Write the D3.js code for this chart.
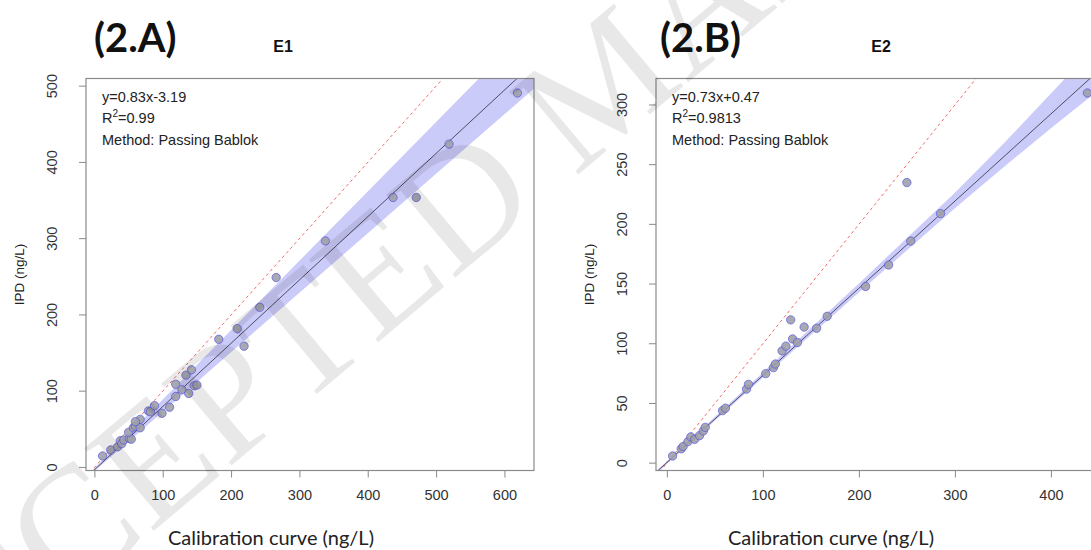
<!DOCTYPE html>
<html>
<head>
<meta charset="utf-8">
<script src="https://cdn.jsdelivr.net/npm/d3@7"></script>
<style>
  body { margin: 0; background: #fff; }
  svg { display: block; }
</style>
</head>
<body>
<svg id="chart" width="1091" height="550"></svg>
<script>
// E1 : calibration curve vs IPD (ng/L)
const e1Calib = [12, 24, 34, 38, 40, 43, 51, 54, 50, 57, 60, 67, 67, 60, 79, 82, 88, 99, 110, 119,
                 119, 128, 134, 142, 138, 146, 150, 182, 209, 219, 242, 266, 338, 437, 471, 519, 619]
const e1Ipd   = [15, 23, 27, 35, 31, 36, 38, 37, 46, 52, 54, 52, 63, 60, 74, 73, 81, 71, 79, 93,
                 109, 102, 121, 128, 97, 107, 108, 168, 182, 159, 210, 249, 297, 354, 354, 424, 491]
const e1Fit = {slope: 0.83, intercept: -3.19}
const e1BandX  = [-20, 0, 100, 200, 300, 400, 500, 600, 660]
const e1BandLo = [-21, -5, 73, 151, 229, 307, 385, 463, 510]
const e1BandHi = [-20, -1, 89, 180, 271, 362, 453, 544, 598]
const e1XTicks = [0, 100, 200, 300, 400, 500, 600]
const e1YTicks = [0, 100, 200, 300, 400, 500]
const e1Text = ['y=0.83x-3.19', '0.99', 'Method: Passing Bablok']

// E2
const e2Calib = [6, 15, 17, 22, 25, 29, 34, 38, 40, 58, 61, 83, 85, 103, 111, 113, 120, 124, 131, 136,
                 129, 143, 156, 167, 207, 231, 254, 285, 250, 438]
const e2Ipd   = [6, 12, 14, 18, 22, 20, 23, 27, 30, 44, 46, 62, 66, 75, 80, 83, 94, 98, 104, 101,
                 120, 114, 113, 123, 148, 166, 186, 209, 235, 310]
const e2Fit = {slope: 0.73, intercept: 0.47}
const e2BandX  = [-15, 0, 100, 200, 300, 350, 400, 460]
const e2BandLo = [-11.5, -0.5, 71.5, 143, 213.5, 247.5, 280.5, 319]
const e2BandHi = [-9.5, 1.5, 76, 150.5, 226.5, 267, 309.5, 361]
const e2XTicks = [0, 100, 200, 300, 400]
const e2YTicks = [0, 50, 100, 150, 200, 250, 300]
const e2Text = ['y=0.73x+0.47', '0.9813', 'Method: Passing Bablok']

const svg = d3.select('#chart')

// R style 4% padding of the data range
function padRange(vals) {
    const [lo, hi] = d3.extent(vals)
    const p = (hi - lo) * 0.04
    return [lo - p, hi + p]
}

function drawPanel(cfg) {
    const box = {left: cfg.left, right: cfg.left + 448, top: 78.5, bottom: 470.5}
    const x = d3.scaleLinear().domain(padRange(cfg.calib)).range([box.left, box.right])
    const y = d3.scaleLinear().domain(padRange(cfg.ipd)).range([box.bottom, box.top])

    const g = svg.append('g')
    g.append('clipPath').attr('id', 'clip-' + cfg.id)
        .append('rect')
        .attr('x', box.left).attr('y', box.top)
        .attr('width', box.right - box.left).attr('height', box.bottom - box.top)
    const plot = g.append('g').attr('clip-path', `url(#clip-${cfg.id})`)

    // confidence band
    const band = d3.area()
        .x((d, i) => x(cfg.bandX[i]))
        .y0((d, i) => y(cfg.bandLo[i]))
        .y1((d, i) => y(cfg.bandHi[i]))
    plot.append('path')
        .datum(cfg.bandX)
        .attr('fill', '#cbcbfa')
        .attr('d', band)

    const dom = x.domain()
    const line = d3.line().x(d => x(d[0])).y(d => y(d[1]))

    // identity line
    plot.append('path')
        .datum(dom.map(v => [v, v]))
        .attr('fill', 'none')
        .attr('stroke', '#f26a6a')
        .attr('stroke-width', 1)
        .attr('stroke-dasharray', '3,3')
        .attr('d', line)

    // regression line
    plot.append('path')
        .datum(dom.map(v => [v, cfg.fit.slope * v + cfg.fit.intercept]))
        .attr('fill', 'none')
        .attr('stroke', '#4d4d66')
        .attr('stroke-width', 1)
        .attr('d', line)

    plot.selectAll('circle.pt')
        .data(cfg.calib.map((c, i) => [c, cfg.ipd[i]]))
        .join('circle')
        .attr('class', 'pt')
        .attr('cx', d => x(d[0]))
        .attr('cy', d => y(d[1]))
        .attr('r', 4.2)
        .attr('fill', '#a0a0a8')
        .attr('fill-opacity', 0.9)
        .attr('stroke', '#4a4ae6')
        .attr('stroke-opacity', 0.6)
        .attr('stroke-width', 1)

    // box
    g.append('rect')
        .attr('x', box.left).attr('y', box.top)
        .attr('width', box.right - box.left).attr('height', box.bottom - box.top)
        .attr('fill', 'none')
        .attr('stroke', '#8a8a8a')
        .attr('stroke-width', 1.2)

    // x axis
    const xAxis = d3.axisBottom(x)
        .tickValues(cfg.xTicks)
        .tickSize(7)
        .tickSizeOuter(0)
        .tickPadding(12)
    const ax = g.append('g')
        .attr('transform', `translate(0,${box.bottom})`)
        .call(xAxis)
    ax.select('.domain').remove()
    ax.selectAll('line').attr('stroke', '#8a8a8a')
    ax.selectAll('text')
        .attr('fill', '#333')
        .attr('font-family', 'Liberation Sans, Arial, sans-serif')
        .attr('font-size', 14.5)

    // y axis, labels rotated like base R graphics
    const ay = g.append('g')
    ay.selectAll('line')
        .data(cfg.yTicks)
        .join('line')
        .attr('x1', box.left - 7).attr('x2', box.left)
        .attr('y1', d => y(d)).attr('y2', d => y(d))
        .attr('stroke', '#8a8a8a')
    ay.selectAll('text')
        .data(cfg.yTicks)
        .join('text')
        .attr('transform', d => `translate(${box.left - 29},${y(d)}) rotate(-90)`)
        .attr('text-anchor', 'middle')
        .attr('fill', '#333')
        .attr('font-family', 'Liberation Sans, Arial, sans-serif')
        .attr('font-size', 14.5)
        .text(d => d)

    // annotation
    const note = g.append('g')
        .attr('font-family', 'Liberation Sans, Arial, sans-serif')
        .attr('font-size', 14.5)
        .attr('fill', '#222')
    note.append('text').attr('x', box.left + 16).attr('y', 102).text(cfg.text[0])
    const r2 = note.append('text').attr('x', box.left + 16).attr('y', 123)
    r2.append('tspan').text('R')
    r2.append('tspan').attr('dy', -6).attr('font-size', 10).text('2')
    r2.append('tspan').attr('dy', 6).text('=' + cfg.text[1])
    note.append('text').attr('x', box.left + 16).attr('y', 145).text(cfg.text[2])

    // titles
    svg.append('text')
        .attr('x', cfg.tagX).attr('y', 52)
        .attr('font-family', 'Lato, Open Sans, sans-serif')
        .attr('font-weight', 700)
        .attr('font-size', 40)
        .attr('fill', '#111')
        .text(cfg.tag)
    svg.append('text')
        .attr('x', cfg.nameX).attr('y', 52)
        .attr('text-anchor', 'middle')
        .attr('font-family', 'Liberation Sans, Arial, sans-serif')
        .attr('font-weight', 700)
        .attr('font-size', 16)
        .attr('fill', '#111')
        .text(cfg.name)
    svg.append('text')
        .attr('x', cfg.xLabelX).attr('y', 545)
        .attr('text-anchor', 'middle')
        .attr('font-family', 'Lato, Open Sans, sans-serif')
        .attr('font-size', 20)
        .attr('fill', '#222')
        .text('Calibration curve (ng/L)')
    svg.append('text')
        .attr('transform', `translate(${cfg.left - 62},${(box.top + box.bottom) / 2}) rotate(-90)`)
        .attr('text-anchor', 'middle')
        .attr('font-family', 'Liberation Sans, Arial, sans-serif')
        .attr('font-size', 13.5)
        .attr('fill', '#222')
        .text('IPD (ng/L)')
}

drawPanel({id: 'a', left: 86, calib: e1Calib, ipd: e1Ipd, fit: e1Fit,
    bandX: e1BandX, bandLo: e1BandLo, bandHi: e1BandHi,
    xTicks: e1XTicks, yTicks: e1YTicks, text: e1Text,
    tag: '(2.A)', tagX: 94, name: 'E1', nameX: 283, xLabelX: 271})

drawPanel({id: 'b', left: 656, calib: e2Calib, ipd: e2Ipd, fit: e2Fit,
    bandX: e2BandX, bandLo: e2BandLo, bandHi: e2BandHi,
    xTicks: e2XTicks, yTicks: e2YTicks, text: e2Text,
    tag: '(2.B)', tagX: 660, name: 'E2', nameX: 881, xLabelX: 831})

// "accepted manuscript" watermark over the figure
svg.append('text')
    .attr('transform', 'translate(-110,752) rotate(-40)')
    .attr('font-family', 'Liberation Serif, Times New Roman, serif')
    .attr('font-size', 165)
    .attr('fill', '#000')
    .attr('fill-opacity', 0.09)
    .text('ACCEPTED MANUSCRIPT')
</script>
</body>
</html>
